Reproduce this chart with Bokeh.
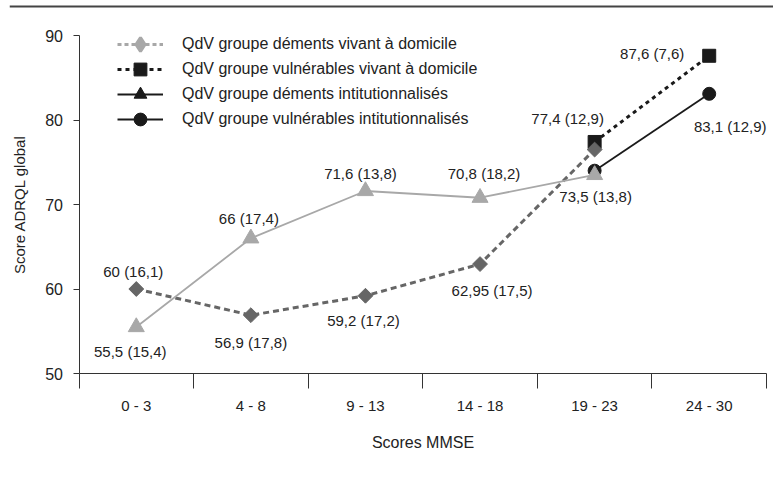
import math
from bokeh.plotting import figure
from bokeh.models import FixedTicker, Legend, LegendItem, ColumnDataSource, Span
from bokeh.core.properties import value
from bokeh.embed import file_html
from bokeh.resources import INLINE

# ---------------- data ----------------
categories = ["0 - 3", "4 - 8", "9 - 13", "14 - 18", "19 - 23", "24 - 30"]

# light grey solid line with triangles (categories 0..4)
grey_tri_idx = [0, 1, 2, 3, 4]
grey_tri_vals = [55.5, 66.0, 71.6, 70.8, 73.5]
grey_tri_labels = ["55,5 (15,4)", "66 (17,4)", "71,6 (13,8)", "70,8 (18,2)", "73,5 (13,8)"]

# dark grey dashed line with diamonds (categories 0..4)
diamond_idx = [0, 1, 2, 3, 4]
diamond_vals = [60.0, 56.9, 59.2, 62.95, 76.5]
diamond_labels = ["60 (16,1)", "56,9 (17,8)", "59,2 (17,2)", "62,95 (17,5)", ""]

# black dashed line with squares (categories 4..5)
square_idx = [4, 5]
square_vals = [77.4, 87.6]
square_labels = ["77,4 (12,9)", "87,6 (7,6)"]

# black solid line with circles (categories 4..5)
circle_idx = [4, 5]
circle_vals = [74.0, 83.1]
circle_labels = ["", "83,1 (12,9)"]

legend_labels = [
    "QdV groupe déments vivant à domicile",
    "QdV groupe vulnérables vivant à domicile",
    "QdV groupe déments intitutionnalisés",
    "QdV groupe vulnérables intitutionnalisés",
]
y_ticks = [50, 60, 70, 80, 90]
y_min, y_max = 50, 90

# ---------------- styles / layout (pixels) ----------------
grey_tri_dx = [-6, -2, -5, 4, 1]
grey_tri_dy = [24, -20, -17, -24, 22]
diamond_dx = [-3, 0, -2, 12, 0]
diamond_dy = [-18, 27, 25, 26, 0]
square_dx = [-27, -57]
square_dy = [-23, -2]
circle_dx = [0, 21]
circle_dy = [0, 33]

W, H = 773, 480
AXIS_X = 78.5        # page x of the y axis (category boundary 0)
LAST_X = 766.0       # page x of the last category boundary
FRAME_L, FRAME_R = 9, 773
TOP_Y, BOT_Y = 35.0, 373.0   # page y of y_max and y_min
RULE_Y = 6.0

FONT = "Liberation Sans"
TXT = "#222222"
AX = "#333333"

n = len(categories)
centers = [i + 0.5 for i in range(n)]
bounds = [float(i) for i in range(n + 1)]

ppx = (LAST_X - AXIS_X) / n
ppy = (BOT_Y - TOP_Y) / (y_max - y_min)
x_start = -(AXIS_X - FRAME_L) / ppx
x_end = n + (FRAME_R - LAST_X) / ppx
y_end = y_min + BOT_Y / ppy
y_start = y_min - (H - BOT_Y) / ppy

def xs(idx):
    return [centers[i] for i in idx]

p = figure(width=W, height=H, x_range=(x_start, x_end), y_range=(y_start, y_end),
           output_backend="svg", toolbar_location=None,
           min_border_left=FRAME_L, min_border_right=W - FRAME_R,
           min_border_top=0, min_border_bottom=0)
p.outline_line_color = None
p.grid.visible = False
p.background_fill_color = "white"
p.border_fill_color = "white"

# y axis, drawn at the first category boundary
p.yaxis.fixed_location = 0
p.yaxis.bounds = (y_min, y_max)
p.yaxis.ticker = FixedTicker(ticks=y_ticks)
p.yaxis.axis_label = "Score ADRQL global"
p.yaxis.major_tick_out = 6
p.yaxis.major_tick_in = 0
p.yaxis.major_label_standoff = 10
p.yaxis.axis_label_standoff = 15
p.yaxis.major_label_text_font_size = "16px"
p.yaxis.axis_label_text_font_size = "15px"

# x axis at y_min: labels at category centres, ticks at boundaries
p.xaxis.fixed_location = y_min
p.xaxis.bounds = (0, n)
p.xaxis.ticker = FixedTicker(ticks=centers, minor_ticks=bounds)
p.xaxis.major_label_overrides = {c: lab for c, lab in zip(centers, categories)}
p.xaxis.axis_label = "Scores MMSE"
p.xaxis.major_tick_out = 0
p.xaxis.major_tick_in = 0
p.xaxis.minor_tick_out = 15
p.xaxis.minor_tick_in = 0
p.xaxis.minor_tick_line_color = AX
p.xaxis.major_label_standoff = 8
p.xaxis.axis_label_standoff = 17
p.xaxis.major_label_text_font_size = "15px"
p.xaxis.axis_label_text_font_size = "16px"

for ax in (p.xaxis, p.yaxis):
    ax.axis_line_color = AX
    ax.major_tick_line_color = AX
    ax.major_label_text_font = FONT
    ax.major_label_text_color = TXT
    ax.axis_label_text_font = FONT
    ax.axis_label_text_font_style = "normal"
    ax.axis_label_text_color = TXT

# decorative top rule of the original figure
p.add_layout(Span(location=y_end - RULE_Y / ppy, dimension="width",
                  line_color="#444444", line_width=2))

# series
p.line(xs(circle_idx), circle_vals, line_color="#1a1a1a", line_width=1.8)
p.scatter(xs(circle_idx), circle_vals, marker="circle", size=13, fill_color="#1a1a1a", line_color="#1a1a1a")

p.line(xs(square_idx), square_vals, line_color="#1a1a1a", line_width=3, line_dash="4 4")
p.scatter(xs(square_idx), square_vals, marker="square", size=13, fill_color="#1a1a1a", line_color="#1a1a1a")

p.line(xs(diamond_idx), diamond_vals, line_color="#666666", line_width=3, line_dash="6 4")
p.scatter(xs(diamond_idx), diamond_vals, marker="square", angle=math.pi / 4, size=10.5,
          fill_color="#666666", line_color="#666666")

p.line(xs(grey_tri_idx), grey_tri_vals, line_color="#a8a8a8", line_width=1.8)
p.scatter(xs(grey_tri_idx), grey_tri_vals, marker="triangle", size=16, fill_color="#a8a8a8", line_color="#a8a8a8")

# data labels
lab_src = ColumnDataSource(dict(
    x=xs(grey_tri_idx) + xs(diamond_idx) + xs(square_idx) + xs(circle_idx),
    y=grey_tri_vals + diamond_vals + square_vals + circle_vals,
    t=grey_tri_labels + diamond_labels + square_labels + circle_labels,
    dx=grey_tri_dx + diamond_dx + square_dx + circle_dx,
    dy=grey_tri_dy + diamond_dy + square_dy + circle_dy,
))
p.text(x="x", y="y", text="t", x_offset="dx", y_offset="dy", source=lab_src,
       text_font=value(FONT), text_font_size="15px", text_color=TXT,
       text_align="center", text_baseline="middle")

# legend keys (styles as drawn in the original key); hidden renderers, shown only in legend
def key(xv, yv, **kw):
    r = p.scatter(xv, yv, **kw) if "marker" in kw else p.line(xv, yv, **kw)
    r.visible = False
    return r

keys = [
    [key(xs(diamond_idx), diamond_vals, line_color="#a8a8a8", line_width=3, line_dash="4 3"),
     key(xs(diamond_idx), diamond_vals, marker="diamond", line_width=3,
         fill_color="#a8a8a8", line_color="#a8a8a8")],
    [key(xs(square_idx), square_vals, line_color="#1a1a1a", line_width=3, line_dash="4 4"),
     key(xs(square_idx), square_vals, marker="square", fill_color="#1a1a1a", line_color="#1a1a1a")],
    [key(xs(grey_tri_idx), grey_tri_vals, line_color="#1a1a1a", line_width=1.8),
     key(xs(grey_tri_idx), grey_tri_vals, marker="triangle", fill_color="#1a1a1a", line_color="#1a1a1a")],
    [key(xs(circle_idx), circle_vals, line_color="#1a1a1a", line_width=1.8),
     key(xs(circle_idx), circle_vals, marker="circle", fill_color="#1a1a1a", line_color="#1a1a1a")],
]
row_y = [43.5, 68.5, 93.5, 118.5]       # page y of each key row
glyph_h = [34, 32, 32, 32]              # key box height (sets marker size)
KEY_X = 117                             # page x of key glyph start

for lab, rs, yc, gh in zip(legend_labels, keys, row_y, glyph_h):
    lg = Legend(items=[LegendItem(label=lab, renderers=rs)],
                location=(KEY_X - FRAME_L, H - yc - gh / 2))
    lg.padding = 0
    lg.margin = 0
    lg.spacing = 0
    lg.glyph_width = 46
    lg.glyph_height = gh
    lg.label_height = 18
    lg.label_standoff = 19
    lg.label_text_font = FONT
    lg.label_text_font_size = "16px"
    lg.label_text_color = TXT
    lg.label_text_baseline = "middle"
    lg.background_fill_alpha = 0
    lg.border_line_alpha = 0
    lg.inactive_fill_alpha = 0
    p.add_layout(lg)

open("out.html", "w").write(file_html(p, INLINE))
